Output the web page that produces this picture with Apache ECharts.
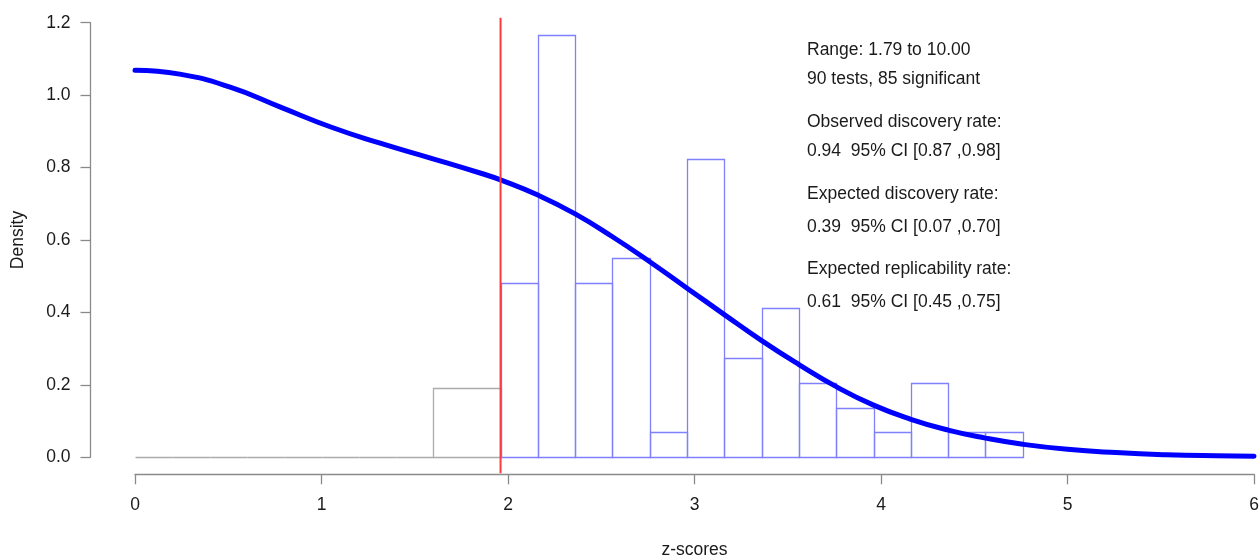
<!DOCTYPE html>
<html>
<head>
<meta charset="utf-8">
<script src="https://cdn.jsdelivr.net/npm/echarts@6/dist/echarts.min.js"></script>
<style>
  html, body { margin: 0; padding: 0; background: #ffffff; }
  #chart { width: 1260px; height: 556px; }
</style>
</head>
<body>
<div id="chart"></div>
<script>
// Histogram of significant z-scores (blue bins, starting at the 1.96 cut-off)
const sigBinEdges = [1.96, 2.16, 2.36, 2.56, 2.76, 2.96, 3.16, 3.36, 3.56, 3.76, 3.96, 4.16, 4.36, 4.56, 4.76];
const sigDensity  = [0.480, 1.166, 0.480, 0.549, 0.069, 0.823, 0.275, 0.412, 0.206, 0.137, 0.069, 0.206, 0.069, 0.069];

// Non-significant z-scores (grey bins below the cut-off)
const nonSigBinEdges = [0, 0.2, 0.4, 0.6, 0.8, 1.0, 1.2, 1.4, 1.6, 1.96];
const nonSigDensity  = [0, 0, 0, 0, 0, 0, 0, 0, 0.191];

// Fitted density of the z-curve model
const curveZ       = [0, 0.24, 0.51, 0.78, 1.05, 1.31, 1.58, 1.85, 1.96, 2.16, 2.36, 2.56, 2.76, 2.96, 3.16, 3.36, 3.56, 3.76, 3.96, 4.16, 4.36, 4.56, 4.76, 5.0, 5.26, 5.53, 5.8, 6.0];
const curveDensity = [1.069, 1.058, 1.022, 0.967, 0.912, 0.868, 0.827, 0.785, 0.766, 0.724, 0.672, 0.609, 0.540, 0.467, 0.394, 0.322, 0.256, 0.195, 0.144, 0.105, 0.075, 0.053, 0.036, 0.022, 0.013, 0.007, 0.004, 0.003];

// Significance threshold marker
const critZ = 1.96;
const critLineSpan = [-0.044, 1.214];

// Summary statistics shown at the top right
const infoLines = [
  'Range: 1.79 to 10.00',
  '90 tests, 85 significant',
  'Observed discovery rate:',
  '0.94  95% CI [0.87 ,0.98]',
  'Expected discovery rate:',
  '0.39  95% CI [0.07 ,0.70]',
  'Expected replicability rate:',
  '0.61  95% CI [0.45 ,0.75]'
];
const infoTops = [51, 80, 123, 152, 195, 228, 270, 303];

const FONT = '"Liberation Sans", Arial, sans-serif';
const TEXT_COLOR = '#1a1a1a';
const AXIS_COLOR = '#8a8a8a';
const FS = 17.5;

function binsToData(edges, dens) {
  return dens.map((d, i) => [edges[i], edges[i + 1], d]);
}

function histRenderer(stroke) {
  return function (params, api) {
    const x0 = api.value(0), x1 = api.value(1), h = api.value(2);
    const pBottom = api.coord([x0, 0]);
    const pTop = api.coord([x1, h]);
    return {
      type: 'rect',
      shape: {
        x: Math.round(pBottom[0]) + 0.5,
        y: Math.round(pTop[1]) + 0.5,
        width: Math.round(pTop[0]) - Math.round(pBottom[0]),
        height: Math.round(pBottom[1]) - Math.round(pTop[1])
      },
      style: { fill: 'none', stroke: stroke, lineWidth: 1.3 }
    };
  };
}

const chart = echarts.init(document.getElementById('chart'), null, { renderer: 'canvas' });

chart.setOption({
  animation: false,
  backgroundColor: '#ffffff',
  grid: { left: 135, right: 6, top: 22.7, bottom: 98.7, containLabel: false, outerBoundsMode: 'none' },
  xAxis: {
    type: 'value',
    min: 0, max: 6, interval: 1,
    offset: 17,
    name: 'z-scores',
    nameLocation: 'middle',
    nameGap: 67,
    nameTextStyle: { fontFamily: FONT, fontSize: FS, color: TEXT_COLOR },
    axisLine: { show: true, onZero: false, lineStyle: { color: AXIS_COLOR, width: 1.3 } },
    axisTick: { show: true, length: 10, lineStyle: { color: AXIS_COLOR, width: 1.3 } },
    axisLabel: { margin: 22, fontFamily: FONT, fontSize: FS, color: TEXT_COLOR },
    splitLine: { show: false }
  },
  yAxis: {
    type: 'value',
    min: 0, max: 1.2, interval: 0.2,
    offset: 44.5,
    name: 'Density',
    nameLocation: 'middle',
    nameGap: 63,
    nameRotate: 90,
    nameTextStyle: { fontFamily: FONT, fontSize: FS, color: TEXT_COLOR },
    axisLine: { show: true, onZero: false, lineStyle: { color: AXIS_COLOR, width: 1.3 } },
    axisTick: { show: true, length: 10, lineStyle: { color: AXIS_COLOR, width: 1.3 } },
    axisLabel: {
      margin: 20, fontFamily: FONT, fontSize: FS, color: TEXT_COLOR,
      formatter: v => v.toFixed(1)
    },
    splitLine: { show: false }
  },
  series: [
    {
      name: 'non-significant',
      type: 'custom',
      renderItem: histRenderer('#ababab'),
      encode: { x: [0, 1], y: 2 },
      data: binsToData(nonSigBinEdges, nonSigDensity),
      z: 2
    },
    {
      name: 'significant',
      type: 'custom',
      renderItem: histRenderer('#8080ff'),
      encode: { x: [0, 1], y: 2 },
      data: binsToData(sigBinEdges, sigDensity),
      z: 3
    },
    {
      name: 'density',
      type: 'line',
      data: curveZ.map((z, i) => [z, curveDensity[i]]),
      smooth: 0.5,
      showSymbol: false,
      lineStyle: { color: '#0000ff', width: 5, cap: 'round', join: 'round' },
      z: 4
    },
    {
      name: 'cut-off',
      type: 'line',
      data: critLineSpan.map(y => [critZ, y]),
      clip: false,
      showSymbol: false,
      lineStyle: { color: '#ff3b3b', width: 2 },
      z: 5
    }
  ],
  graphic: infoLines.map((t, i) => ({
    type: 'text',
    left: 807,
    top: infoTops[i] - 10,
    style: { text: t, fontFamily: FONT, fontSize: FS, fill: TEXT_COLOR }
  }))
});
</script>
</body>
</html>
